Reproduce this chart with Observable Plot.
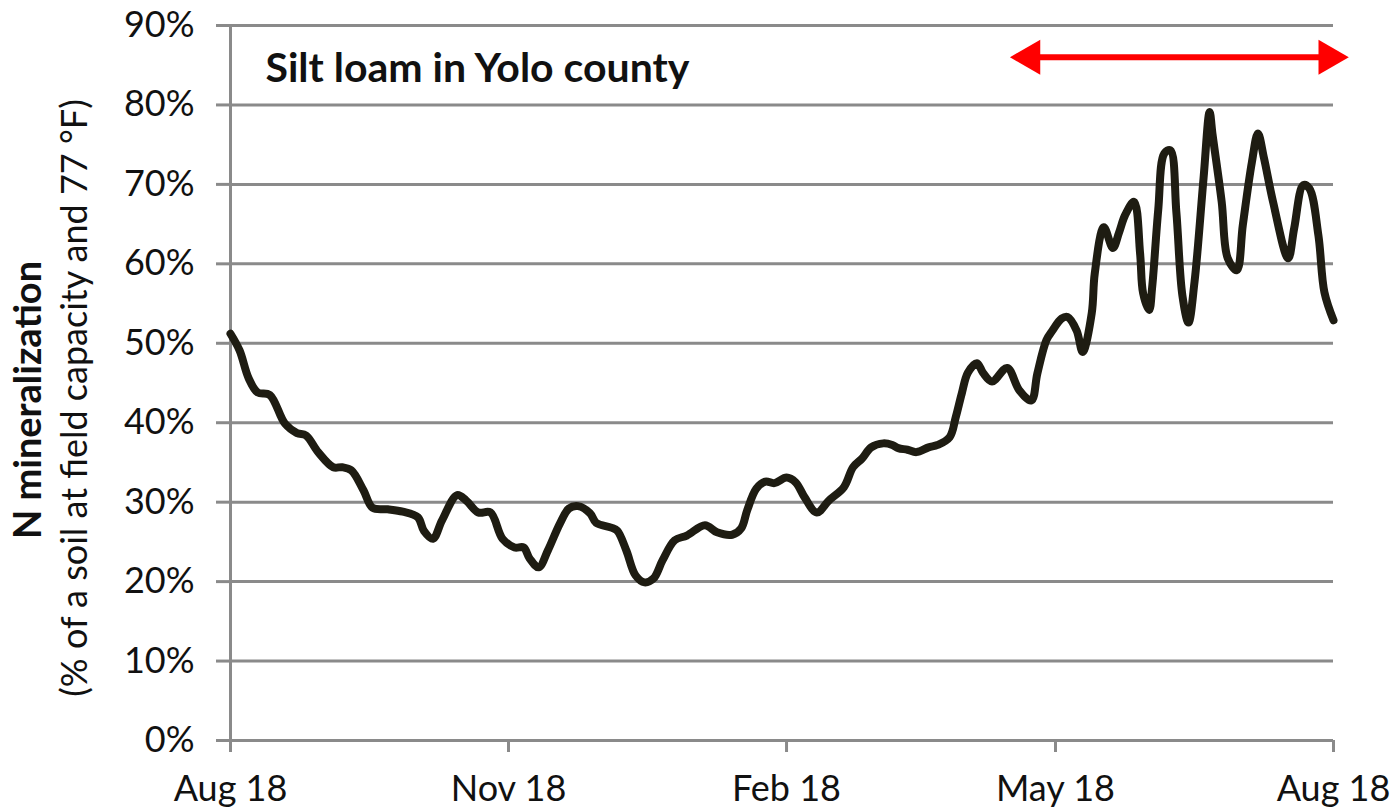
<!DOCTYPE html>
<html>
<head>
<meta charset="utf-8">
<script src="https://cdn.jsdelivr.net/npm/d3@7"></script>
<script src="https://cdn.jsdelivr.net/npm/@observablehq/plot@0.6"></script>
<style>
  html, body { margin: 0; padding: 0; background: #fff; }
</style>
</head>
<body>
<div id="chart"></div>
<script>
// ---- Data ----
const startDate = "2017-08-18";
const endDate = "2018-08-18";
// days after Aug 18
const dayOffsets = [
  0, 3, 6, 9, 13, 18, 22, 25, 29, 34, 37, 40, 44, 47, 52, 57, 62, 64, 67, 70,
  75, 78, 82, 86, 90, 94, 97, 99, 102, 105, 109, 112, 115, 119, 121, 126, 128, 131, 134, 137,
  140, 143, 147, 151, 157, 161, 166, 169, 171, 174, 177, 180, 184, 187, 190, 194, 198, 203, 206, 209,
  212, 216, 219, 221, 224, 227, 231, 234, 238, 240, 242, 244, 247, 249, 252, 257, 261, 265, 267, 270,
  272, 275, 277, 280, 282, 285, 286, 289, 292, 294, 296, 299, 301, 302, 304, 305, 307, 309, 311, 313,
  315, 317, 319, 322, 324, 325, 328, 330, 333, 335, 338, 340, 342, 345, 350, 352, 355, 357, 360, 362,
  365
];
// N mineralization, % of a soil at field capacity and 77 °F
const nMineralization = [
  51.2, 49.1, 45.6, 43.8, 43.5, 39.9, 38.7, 38.4, 36.3, 34.4, 34.4, 34.0, 31.5, 29.3, 29.1, 28.8, 28.1, 26.4, 25.4, 27.7,
  30.9, 30.2, 28.7, 28.7, 25.4, 24.3, 24.3, 22.9, 21.8, 23.9, 27.3, 29.2, 29.5, 28.6, 27.4, 26.8, 26.4, 23.9, 20.8, 19.9,
  20.4, 22.7, 25.2, 25.8, 27.1, 26.2, 25.9, 26.7, 29.0, 31.7, 32.6, 32.4, 33.1, 32.5, 30.6, 28.7, 30.2, 31.9, 34.4, 35.5,
  36.9, 37.4, 37.2, 36.8, 36.6, 36.3, 36.9, 37.2, 38.2, 40.7, 43.7, 46.3, 47.5, 46.3, 45.2, 46.9, 44.1, 42.8, 46.2, 50.4,
  51.6, 53.1, 53.3, 51.6, 48.9, 53.8, 58.8, 64.6, 62.0, 63.9, 66.1, 67.8, 61.3, 56.3, 54.2, 57.1, 66.8, 73.9, 74.3, 66.5,
  56.0, 52.6, 57.7, 70.8, 79.1, 76.2, 67.8, 60.7, 59.2, 64.9, 72.8, 76.4, 73.3, 67.8, 60.7, 64.5, 69.9, 69.5, 63.6, 56.4,
  52.9
];
const yTicks = [0, 10, 20, 30, 40, 50, 60, 70, 80, 90];
const xTicks = ["2017-08-18", "2017-11-18", "2018-02-18", "2018-05-18", "2018-08-18"];
const titleText = "Silt loam in Yolo county";
const yTitle = "N mineralization";
const ySubtitle = "(% of a soil at field capacity and 77 °F)";
// red double arrow (tips)
const arrowSpan = ["2018-05-03", "2018-08-23"];
const arrowLevel = 86;

// ---- Build ----
const start = new Date(startDate);
const series = dayOffsets.map((d, i) => ({date: d3.utcDay.offset(start, d), value: nMineralization[i]}));
const tickDates = xTicks.map(s => new Date(s));
const arrowDates = arrowSpan.map(s => new Date(s));

const gridColor = "#8a8a8a";
const font = "Lato, 'Open Sans', sans-serif";

const chart = Plot.plot({
  width: 1400,
  height: 809,
  marginLeft: 230,
  marginRight: 67,
  marginTop: 25,
  marginBottom: 69,
  style: {fontFamily: font, fontSize: "36px", color: "#111", background: "#fff", overflow: "visible"},
  x: {type: "utc", domain: [new Date(startDate), new Date(endDate)]},
  y: {domain: [0, 90]},
  marks: [
    Plot.ruleY(yTicks, {stroke: gridColor, strokeWidth: 3}),
    Plot.axisY(yTicks, {tickSize: 14, tickPadding: 22, stroke: gridColor, strokeWidth: 3, tickFormat: d => d + "%", label: null}),
    Plot.axisX(tickDates, {tickSize: 12, tickPadding: 23, stroke: gridColor, strokeWidth: 3, tickFormat: d3.utcFormat("%b %d"), label: null}),
    Plot.ruleX([new Date(startDate)], {stroke: gridColor, strokeWidth: 3}),
    Plot.line(series, {x: "date", y: "value", stroke: "#1e1c12", strokeWidth: 8, curve: "catmull-rom"}),
    // red double arrow
    Plot.ruleY([arrowLevel], {x1: arrowDates[0], x2: arrowDates[1], stroke: "#ff0000", strokeWidth: 6, insetLeft: 18, insetRight: 18}),
    Plot.dot([arrowDates[0]], {x: d => d, y: () => arrowLevel, symbol: "triangle", r: 13, rotate: -90, fill: "#ff0000", stroke: null, dx: 20}),
    Plot.dot([arrowDates[1]], {x: d => d, y: () => arrowLevel, symbol: "triangle", r: 13, rotate: 90, fill: "#ff0000", stroke: null, dx: -20}),
    // texts
    Plot.text([titleText], {text: d => d, frameAnchor: "top-left", textAnchor: "start", lineAnchor: "middle", dx: 35, dy: 43, fontWeight: "bold", fontSize: 41, fill: "#111"}),
    Plot.text([yTitle], {text: d => d, frameAnchor: "left", textAnchor: "middle", lineAnchor: "middle", rotate: -90, dx: -202, dy: 17, fontWeight: "bold", fontSize: 38, fill: "#111"}),
    Plot.text([ySubtitle], {text: d => d, frameAnchor: "left", textAnchor: "middle", lineAnchor: "middle", rotate: -90, dx: -155, dy: 15, fontSize: 36, fill: "#111"})
  ]
});
document.getElementById("chart").appendChild(chart);
</script>
</body>
</html>
